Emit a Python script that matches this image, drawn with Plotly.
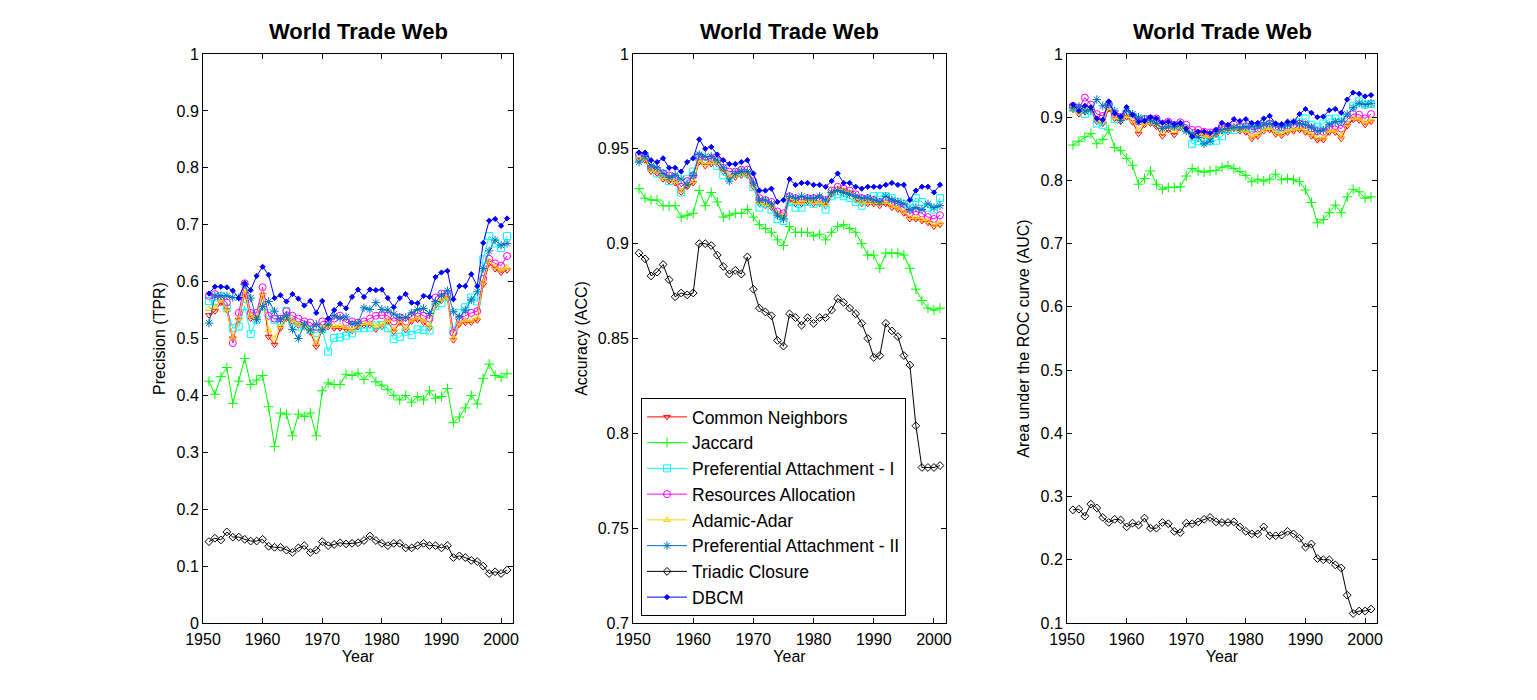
import plotly.graph_objects as go

# ── 数据：1951–2001，World Trade Web ──
years = list(range(1951, 2002))

names = ["Common Neighbors", "Jaccard", "Preferential Attachment - I",
         "Resources Allocation", "Adamic-Adar", "Preferential Attachment - II",
         "Triadic Closure", "DBCM"]

# Precision (TPR)
prec_cn = [0.541, 0.548, 0.563, 0.550, 0.500, 0.533, 0.579, 0.535, 0.535, 0.576,
           0.503, 0.489, 0.518, 0.535, 0.530, 0.523, 0.520, 0.511, 0.486, 0.516,
           0.520, 0.518, 0.518, 0.516, 0.513, 0.520, 0.523, 0.523, 0.516, 0.521,
           0.530, 0.512, 0.528, 0.515, 0.530, 0.533, 0.528, 0.518, 0.558, 0.566,
           0.570, 0.497, 0.525, 0.528, 0.528, 0.532, 0.595, 0.632, 0.622, 0.616, 0.620]
prec_jac = [0.425, 0.402, 0.433, 0.449, 0.386, 0.425, 0.465, 0.419, 0.427, 0.435,
            0.380, 0.310, 0.369, 0.367, 0.329, 0.367, 0.363, 0.369, 0.329, 0.408,
            0.422, 0.419, 0.419, 0.437, 0.435, 0.439, 0.428, 0.440, 0.424, 0.418,
            0.410, 0.400, 0.392, 0.400, 0.388, 0.398, 0.392, 0.408, 0.395, 0.398,
            0.412, 0.352, 0.362, 0.378, 0.400, 0.385, 0.430, 0.455, 0.435, 0.432, 0.438]
prec_pa1 = [0.566, 0.566, 0.575, 0.553, 0.518, 0.521, 0.557, 0.508, 0.533, 0.557,
            0.544, 0.533, 0.530, 0.548, 0.530, 0.521, 0.522, 0.515, 0.510, 0.516,
            0.477, 0.501, 0.502, 0.505, 0.509, 0.518, 0.518, 0.519, 0.523, 0.524,
            0.518, 0.499, 0.503, 0.512, 0.506, 0.516, 0.515, 0.514, 0.557, 0.562,
            0.573, 0.514, 0.545, 0.555, 0.572, 0.565, 0.639, 0.680, 0.667, 0.659, 0.680]
prec_ra = [0.575, 0.578, 0.570, 0.563, 0.492, 0.545, 0.597, 0.545, 0.545, 0.590,
           0.540, 0.535, 0.535, 0.548, 0.540, 0.535, 0.530, 0.528, 0.520, 0.530,
           0.530, 0.535, 0.540, 0.528, 0.530, 0.528, 0.530, 0.535, 0.540, 0.541,
           0.540, 0.530, 0.537, 0.530, 0.540, 0.545, 0.540, 0.535, 0.572, 0.579,
           0.578, 0.510, 0.535, 0.540, 0.545, 0.548, 0.605, 0.640, 0.632, 0.628, 0.645]
prec_aa = [0.552, 0.555, 0.567, 0.552, 0.500, 0.535, 0.585, 0.540, 0.538, 0.580,
           0.515, 0.500, 0.522, 0.538, 0.532, 0.525, 0.523, 0.515, 0.492, 0.520,
           0.522, 0.522, 0.522, 0.520, 0.516, 0.523, 0.527, 0.527, 0.522, 0.525,
           0.533, 0.516, 0.531, 0.520, 0.533, 0.537, 0.532, 0.522, 0.562, 0.570,
           0.572, 0.500, 0.528, 0.532, 0.532, 0.537, 0.600, 0.636, 0.626, 0.621, 0.625]
prec_pa2 = [0.527, 0.575, 0.575, 0.575, 0.572, 0.572, 0.595, 0.571, 0.533, 0.556,
            0.565, 0.548, 0.533, 0.540, 0.516, 0.500, 0.525, 0.515, 0.525, 0.515,
            0.525, 0.540, 0.536, 0.538, 0.526, 0.527, 0.554, 0.551, 0.563, 0.551,
            0.550, 0.543, 0.537, 0.537, 0.545, 0.551, 0.553, 0.544, 0.565, 0.576,
            0.584, 0.547, 0.538, 0.550, 0.568, 0.582, 0.623, 0.654, 0.673, 0.664, 0.667]
prec_tri = [0.143, 0.149, 0.146, 0.160, 0.151, 0.151, 0.147, 0.144, 0.144, 0.147,
            0.135, 0.133, 0.133, 0.128, 0.124, 0.132, 0.136, 0.124, 0.128, 0.143,
            0.136, 0.138, 0.141, 0.139, 0.140, 0.141, 0.145, 0.153, 0.145, 0.140,
            0.136, 0.140, 0.140, 0.132, 0.132, 0.136, 0.140, 0.136, 0.136, 0.132,
            0.136, 0.115, 0.118, 0.115, 0.110, 0.108, 0.100, 0.087, 0.090, 0.087, 0.093]
prec_dbcm = [0.579, 0.591, 0.591, 0.590, 0.584, 0.571, 0.597, 0.585, 0.610, 0.626,
             0.612, 0.571, 0.576, 0.565, 0.578, 0.570, 0.558, 0.566, 0.545, 0.566,
             0.535, 0.550, 0.561, 0.553, 0.573, 0.586, 0.573, 0.586, 0.585, 0.586,
             0.571, 0.555, 0.571, 0.578, 0.563, 0.562, 0.575, 0.573, 0.608, 0.616,
             0.619, 0.569, 0.592, 0.592, 0.613, 0.592, 0.668, 0.707, 0.710, 0.698, 0.711]

# Accuracy (ACC)
acc_cn = [0.944, 0.944, 0.938, 0.937, 0.934, 0.933, 0.932, 0.927, 0.930, 0.932,
          0.943, 0.941, 0.942, 0.942, 0.938, 0.935, 0.935, 0.936, 0.936, 0.930,
          0.921, 0.920, 0.919, 0.915, 0.914, 0.923, 0.921, 0.921, 0.922, 0.921,
          0.921, 0.920, 0.926, 0.929, 0.928, 0.927, 0.923, 0.921, 0.921, 0.921,
          0.920, 0.921, 0.919, 0.918, 0.916, 0.913, 0.913, 0.912, 0.911, 0.909, 0.910]
acc_jac = [0.929, 0.924, 0.923, 0.923, 0.920, 0.920, 0.920, 0.914, 0.915, 0.916,
           0.928, 0.920, 0.927, 0.922, 0.914, 0.915, 0.916, 0.916, 0.918, 0.914,
           0.910, 0.908, 0.906, 0.902, 0.899, 0.909, 0.906, 0.906, 0.906, 0.904,
           0.905, 0.902, 0.906, 0.909, 0.910, 0.908, 0.906, 0.900, 0.894, 0.894,
           0.887, 0.895, 0.895, 0.895, 0.894, 0.887, 0.876, 0.870, 0.866, 0.865, 0.866]
acc_pa1 = [0.945, 0.946, 0.940, 0.937, 0.937, 0.933, 0.935, 0.927, 0.934, 0.938,
           0.946, 0.944, 0.944, 0.941, 0.936, 0.936, 0.937, 0.938, 0.937, 0.930,
           0.919, 0.921, 0.918, 0.913, 0.912, 0.922, 0.919, 0.919, 0.922, 0.921,
           0.922, 0.918, 0.925, 0.926, 0.925, 0.924, 0.922, 0.920, 0.923, 0.925,
           0.925, 0.925, 0.924, 0.922, 0.921, 0.919, 0.924, 0.922, 0.919, 0.918, 0.924]
acc_ra = [0.947, 0.946, 0.940, 0.939, 0.937, 0.936, 0.935, 0.930, 0.933, 0.936,
          0.946, 0.944, 0.945, 0.944, 0.940, 0.938, 0.938, 0.939, 0.939, 0.933,
          0.924, 0.923, 0.922, 0.917, 0.916, 0.925, 0.924, 0.923, 0.924, 0.924,
          0.924, 0.923, 0.928, 0.930, 0.929, 0.928, 0.926, 0.924, 0.924, 0.923,
          0.922, 0.923, 0.922, 0.921, 0.919, 0.916, 0.917, 0.916, 0.914, 0.913, 0.915]
acc_aa = [0.945, 0.945, 0.939, 0.938, 0.935, 0.934, 0.933, 0.928, 0.931, 0.933,
          0.944, 0.942, 0.943, 0.943, 0.939, 0.936, 0.936, 0.937, 0.937, 0.931,
          0.922, 0.921, 0.920, 0.916, 0.915, 0.924, 0.922, 0.922, 0.923, 0.922,
          0.922, 0.921, 0.927, 0.929, 0.928, 0.927, 0.924, 0.922, 0.922, 0.922,
          0.921, 0.922, 0.920, 0.919, 0.917, 0.914, 0.914, 0.913, 0.912, 0.910, 0.911]
acc_pa2 = [0.943, 0.946, 0.941, 0.940, 0.937, 0.935, 0.936, 0.934, 0.931, 0.936,
           0.947, 0.946, 0.946, 0.944, 0.940, 0.933, 0.937, 0.938, 0.938, 0.932,
           0.923, 0.923, 0.921, 0.915, 0.913, 0.925, 0.924, 0.925, 0.924, 0.924,
           0.925, 0.923, 0.927, 0.928, 0.927, 0.926, 0.925, 0.924, 0.924, 0.923,
           0.922, 0.925, 0.923, 0.922, 0.921, 0.918, 0.919, 0.918, 0.921, 0.919, 0.920]
acc_tri = [0.895, 0.892, 0.883, 0.885, 0.889, 0.881, 0.872, 0.874, 0.873, 0.874,
           0.900, 0.900, 0.899, 0.894, 0.888, 0.884, 0.886, 0.884, 0.893, 0.876,
           0.866, 0.864, 0.862, 0.849, 0.846, 0.863, 0.861, 0.857, 0.861, 0.858,
           0.861, 0.861, 0.865, 0.871, 0.869, 0.866, 0.863, 0.858, 0.850, 0.840,
           0.841, 0.858, 0.854, 0.851, 0.841, 0.836, 0.804, 0.782, 0.782, 0.782, 0.783]
acc_dbcm = [0.948, 0.948, 0.944, 0.943, 0.945, 0.940, 0.940, 0.938, 0.943, 0.945,
            0.955, 0.950, 0.951, 0.947, 0.944, 0.942, 0.942, 0.943, 0.944, 0.937,
            0.928, 0.928, 0.929, 0.922, 0.923, 0.934, 0.931, 0.932, 0.932, 0.931,
            0.931, 0.930, 0.933, 0.937, 0.932, 0.932, 0.930, 0.929, 0.930, 0.930,
            0.930, 0.931, 0.932, 0.931, 0.931, 0.923, 0.928, 0.930, 0.930, 0.927, 0.931]

# Area under the ROC curve (AUC)
auc_cn = [0.912, 0.905, 0.908, 0.912, 0.893, 0.890, 0.913, 0.898, 0.893, 0.900,
          0.892, 0.874, 0.888, 0.890, 0.885, 0.870, 0.880, 0.872, 0.883, 0.880,
          0.870, 0.873, 0.870, 0.868, 0.872, 0.878, 0.877, 0.882, 0.878, 0.876,
          0.866, 0.870, 0.878, 0.880, 0.873, 0.871, 0.876, 0.878, 0.880, 0.876,
          0.870, 0.864, 0.864, 0.876, 0.876, 0.866, 0.886, 0.896, 0.895, 0.888, 0.893]
auc_jac = [0.856, 0.862, 0.869, 0.874, 0.858, 0.865, 0.880, 0.852, 0.847, 0.835,
           0.824, 0.794, 0.803, 0.815, 0.794, 0.786, 0.789, 0.789, 0.790, 0.807,
           0.819, 0.815, 0.813, 0.815, 0.816, 0.821, 0.823, 0.819, 0.814, 0.808,
           0.798, 0.802, 0.799, 0.802, 0.810, 0.801, 0.803, 0.801, 0.798, 0.785,
           0.765, 0.733, 0.738, 0.749, 0.761, 0.749, 0.774, 0.786, 0.782, 0.772, 0.774]
auc_pa1 = [0.915, 0.912, 0.905, 0.910, 0.890, 0.888, 0.918, 0.897, 0.900, 0.905,
           0.900, 0.895, 0.897, 0.895, 0.895, 0.888, 0.890, 0.886, 0.888, 0.882,
           0.858, 0.862, 0.862, 0.862, 0.863, 0.870, 0.880, 0.880, 0.883, 0.884,
           0.883, 0.882, 0.886, 0.888, 0.884, 0.883, 0.885, 0.887, 0.892, 0.898,
           0.888, 0.885, 0.890, 0.897, 0.898, 0.893, 0.899, 0.918, 0.925, 0.920, 0.921]
auc_ra = [0.918, 0.915, 0.931, 0.920, 0.905, 0.902, 0.920, 0.905, 0.900, 0.905,
          0.900, 0.893, 0.897, 0.898, 0.898, 0.890, 0.893, 0.888, 0.892, 0.888,
          0.880, 0.880, 0.877, 0.876, 0.878, 0.886, 0.885, 0.888, 0.885, 0.886,
          0.880, 0.882, 0.887, 0.890, 0.885, 0.884, 0.887, 0.888, 0.890, 0.888,
          0.882, 0.878, 0.877, 0.885, 0.886, 0.882, 0.896, 0.905, 0.904, 0.898, 0.905]
auc_aa = [0.914, 0.908, 0.915, 0.914, 0.898, 0.895, 0.916, 0.900, 0.896, 0.902,
          0.895, 0.880, 0.891, 0.893, 0.890, 0.876, 0.885, 0.878, 0.886, 0.883,
          0.873, 0.875, 0.872, 0.870, 0.874, 0.880, 0.880, 0.884, 0.880, 0.879,
          0.870, 0.873, 0.880, 0.883, 0.876, 0.874, 0.879, 0.881, 0.883, 0.879,
          0.873, 0.868, 0.868, 0.879, 0.879, 0.870, 0.889, 0.899, 0.898, 0.892, 0.896]
auc_pa2 = [0.915, 0.917, 0.910, 0.912, 0.928, 0.918, 0.921, 0.910, 0.895, 0.910,
           0.905, 0.900, 0.896, 0.895, 0.890, 0.882, 0.885, 0.885, 0.888, 0.878,
           0.874, 0.868, 0.858, 0.862, 0.875, 0.880, 0.882, 0.884, 0.883, 0.885,
           0.886, 0.885, 0.889, 0.890, 0.888, 0.886, 0.888, 0.892, 0.890, 0.888,
           0.884, 0.878, 0.880, 0.888, 0.893, 0.893, 0.905, 0.915, 0.922, 0.920, 0.922]
auc_tri = [0.279, 0.280, 0.269, 0.288, 0.282, 0.267, 0.259, 0.264, 0.263, 0.252,
           0.258, 0.255, 0.266, 0.250, 0.250, 0.259, 0.257, 0.245, 0.243, 0.258,
           0.257, 0.260, 0.264, 0.267, 0.260, 0.259, 0.259, 0.260, 0.252, 0.245,
           0.241, 0.241, 0.252, 0.238, 0.238, 0.239, 0.245, 0.241, 0.234, 0.220,
           0.225, 0.202, 0.200, 0.200, 0.192, 0.187, 0.144, 0.115, 0.119, 0.119, 0.122]
auc_dbcm = [0.920, 0.910, 0.918, 0.916, 0.898, 0.896, 0.925, 0.906, 0.901, 0.916,
            0.904, 0.893, 0.894, 0.900, 0.898, 0.891, 0.893, 0.889, 0.891, 0.882,
            0.869, 0.877, 0.877, 0.875, 0.880, 0.891, 0.888, 0.897, 0.894, 0.897,
            0.891, 0.891, 0.898, 0.902, 0.890, 0.889, 0.893, 0.893, 0.905, 0.913,
            0.907, 0.900, 0.901, 0.911, 0.913, 0.907, 0.928, 0.939, 0.937, 0.933, 0.935]

panels = [
    ("Precision (TPR)", [0, 1], 0.1,
     [prec_cn, prec_jac, prec_pa1, prec_ra, prec_aa, prec_pa2, prec_tri, prec_dbcm]),
    ("Accuracy (ACC)", [0.7, 1], 0.05,
     [acc_cn, acc_jac, acc_pa1, acc_ra, acc_aa, acc_pa2, acc_tri, acc_dbcm]),
    ("Area under the ROC curve (AUC)", [0.1, 1], 0.1,
     [auc_cn, auc_jac, auc_pa1, auc_ra, auc_aa, auc_pa2, auc_tri, auc_dbcm]),
]

# ── 样式（MATLAB 风格）──
colors = ["#FF0000", "#00FF00", "#00FFFF", "#FF00FF", "#FFD000", "#0072BD", "#000000", "#0000FF"]
symbols = ["triangle-down-open", "cross-thin", "square-open", "circle-open",
           "triangle-up-open", "asterisk", "diamond-open", "diamond"]
sizes = [6, 7, 7, 7, 6, 7, 6, 4]

FONT = "Liberation Sans, Arial, sans-serif"
W, H = 1537, 700
OFF = 8  # 页面 body 默认 8px 边距


def px_x(px):
    return (px - OFF) / W


def px_y(py):
    return 1 - (py - OFF) / H


# 面板位置按参考图像素换算
x_domains = [[px_x(203), px_x(513)], [px_x(633), px_x(946)], [px_x(1067), px_x(1377)]]
y_domain = [px_y(623), px_y(54)]

fig = go.Figure()

for p, (ytitle, yrange, dtick, series) in enumerate(panels):
    ax = "" if p == 0 else str(p + 1)
    for i, vals in enumerate(series):
        fig.add_trace(go.Scatter(
            x=years, y=vals,
            mode="lines+markers",
            name=names[i],
            legendgroup=names[i],
            showlegend=(p == 1),
            line=dict(color=colors[i], width=1),
            marker=dict(symbol=symbols[i], size=sizes[i], color=colors[i],
                        line=dict(color=colors[i], width=1)),
            xaxis="x" + ax, yaxis="y" + ax,
        ))

    axis_common = dict(
        showline=True, linecolor="black", linewidth=1, mirror="ticks",
        ticks="inside", ticklen=5, tickcolor="black",
        showgrid=False, zeroline=False, automargin=False,
        tickfont=dict(family=FONT, size=16, color="black"),
        title_font=dict(family=FONT, size=16, color="black"),
    )
    fig.update_layout({
        "xaxis" + ax: dict(axis_common, domain=x_domains[p], range=[1950, 2002],
                           tick0=1950, dtick=10, anchor="y" + ax,
                           ticklabelstandoff=2,
                           title=dict(text="Year", standoff=2)),
        "yaxis" + ax: dict(axis_common, domain=y_domain, range=yrange,
                           tick0=yrange[0], dtick=dtick, anchor="x" + ax,
                           title=dict(text=ytitle, standoff=6)),
    })
    fig.add_annotation(
        text="<b>World Trade Web</b>", xref="paper", yref="paper",
        x=sum(x_domains[p]) / 2, y=px_y(32), xanchor="center", yanchor="middle",
        showarrow=False, font=dict(family=FONT, size=22, color="black"),
    )

fig.update_layout(
    width=W, height=H,
    margin=dict(l=0, r=0, t=0, b=0),
    plot_bgcolor="white", paper_bgcolor="white",
    font=dict(family=FONT, size=16, color="black"),
    legend=dict(
        x=px_x(641), y=px_y(398), xanchor="left", yanchor="top",
        bgcolor="white", bordercolor="black", borderwidth=1,
        font=dict(family=FONT, size=17.5, color="black"),
        tracegroupgap=0, itemwidth=40,
    ),
    showlegend=True,
)

fig.write_html("out.html")
